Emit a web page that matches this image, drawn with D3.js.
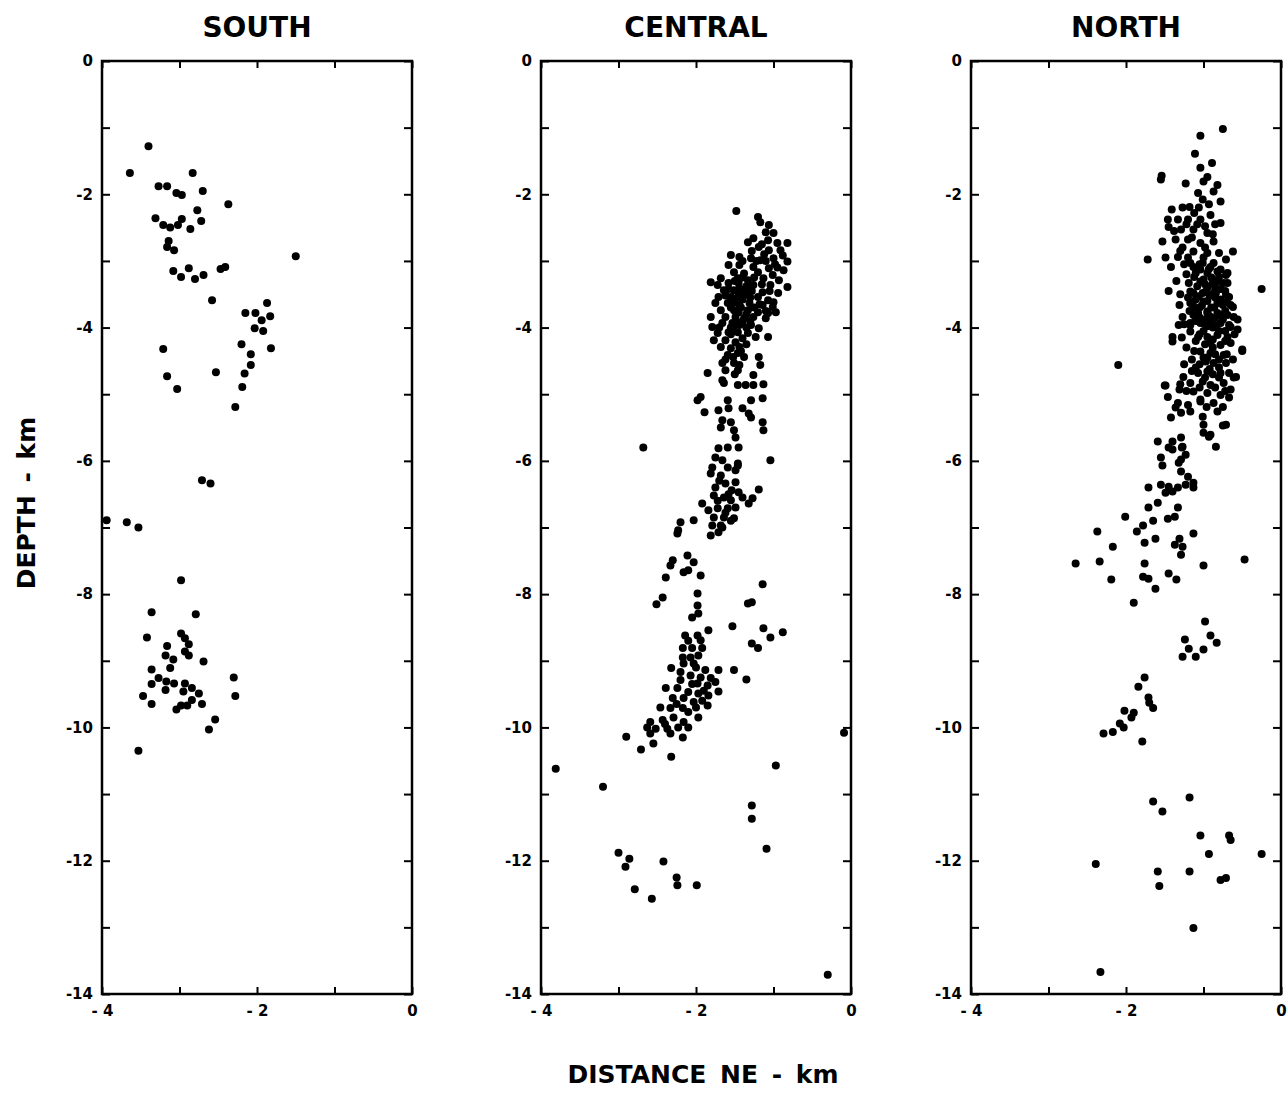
<!DOCTYPE html>
<html>
<head>
<meta charset="utf-8">
<script src="https://cdn.jsdelivr.net/npm/d3@7"></script>
<style>
  body { margin: 0; background: #fff; }
  text { font-family: "DejaVu Sans", "Liberation Sans", Arial, sans-serif; font-weight: bold; fill: #000; }
</style>
</head>
<body>
<svg id="chart"></svg>
<script>
// hypocentre cross-sections, [distance NE (km), depth (km)]
const panelNames = ["SOUTH", "CENTRAL", "NORTH"];
const xTicks = [-4, -3, -2, -1, 0];
const xTickLabels = { "-4": "- 4", "-2": "- 2", "0": "0" };
const yTicks = d3.range(-14, 1, 1);

const southEvents = [
  [-3.40,-1.28],[-3.64,-1.68],[-3.27,-1.88],[-3.16,-1.88],[-3.04,-1.98],[-2.97,-2.01],[-2.83,-1.68],[-2.70,-1.95],
  [-2.37,-2.15],[-3.31,-2.36],[-3.21,-2.46],[-3.12,-2.50],[-3.02,-2.46],[-2.97,-2.37],[-2.86,-2.52],[-2.77,-2.24],
  [-2.72,-2.40],[-3.14,-2.70],[-3.16,-2.79],[-3.07,-2.84],[-3.08,-3.15],[-2.98,-3.24],[-2.88,-3.11],[-2.80,-3.27],
  [-2.69,-3.21],[-2.47,-3.12],[-2.41,-3.09],[-1.50,-2.93],[-2.58,-3.59],[-2.15,-3.78],[-2.02,-3.78],[-1.87,-3.63],
  [-1.83,-3.83],[-1.94,-3.89],[-2.03,-4.01],[-1.92,-4.05],[-2.20,-4.25],[-2.08,-4.40],[-1.82,-4.31],[-3.21,-4.32],
  [-2.08,-4.56],[-2.16,-4.69],[-2.53,-4.67],[-3.16,-4.73],[-3.03,-4.92],[-2.19,-4.89],[-2.28,-5.19],[-2.71,-6.29],
  [-2.60,-6.34],[-3.94,-6.89],[-3.68,-6.92],[-3.53,-7.00],[-2.98,-7.79],[-3.36,-8.27],[-2.79,-8.30],[-3.42,-8.65],
  [-2.98,-8.59],[-2.93,-8.66],[-2.88,-8.75],[-3.16,-8.78],[-3.18,-8.92],[-2.93,-8.86],[-2.88,-8.92],[-3.08,-8.98],
  [-2.69,-9.01],[-3.36,-9.13],[-3.12,-9.11],[-3.27,-9.26],[-3.17,-9.31],[-3.36,-9.35],[-3.07,-9.34],[-2.93,-9.34],
  [-3.18,-9.44],[-2.95,-9.46],[-2.84,-9.41],[-2.75,-9.49],[-2.30,-9.25],[-2.28,-9.53],[-3.47,-9.53],[-3.36,-9.65],
  [-2.84,-9.59],[-2.90,-9.67],[-2.98,-9.67],[-3.04,-9.73],[-2.71,-9.65],[-2.54,-9.88],[-2.62,-10.03],[-3.53,-10.35]
];

const centralEvents = [
  [-1.48,-2.25],[-1.20,-2.34],[-1.17,-2.42],[-1.06,-2.46],[-1.10,-2.57],[-1.00,-2.58],[-1.26,-2.66],[-1.33,-2.72],
  [-1.07,-2.69],[-0.95,-2.73],[-0.82,-2.73],[-1.19,-2.79],[-1.06,-2.84],[-0.91,-2.84],[-1.55,-2.91],[-1.44,-2.94],
  [-1.29,-2.96],[-1.17,-2.99],[-1.00,-2.96],[-0.82,-3.01],[-1.58,-3.06],[-1.44,-3.06],[-1.26,-3.09],[-1.06,-3.11],
  [-0.87,-3.14],[-1.51,-3.17],[-1.38,-3.19],[-1.20,-3.17],[-1.01,-3.21],[-1.68,-3.26],[-1.46,-3.26],[-1.33,-3.29],
  [-1.13,-3.26],[-0.93,-3.29],[-1.81,-3.32],[-1.72,-3.36],[-1.58,-3.33],[-1.45,-3.33],[-1.26,-3.36],[-1.04,-3.36],
  [-0.82,-3.39],[-1.64,-3.44],[-1.51,-3.44],[-1.44,-3.41],[-1.32,-3.44],[-1.14,-3.47],[-0.94,-3.48],[-1.71,-3.54],
  [-1.55,-3.54],[-1.46,-3.54],[-1.38,-3.51],[-1.20,-3.54],[-1.07,-3.59],[-1.00,-3.62],[-1.75,-3.63],[-1.59,-3.63],
  [-1.50,-3.62],[-1.44,-3.66],[-1.31,-3.63],[-1.14,-3.66],[-1.01,-3.69],[-1.68,-3.74],[-1.51,-3.74],[-1.45,-3.77],
  [-1.33,-3.74],[-1.20,-3.77],[-1.07,-3.78],[-0.97,-3.77],[-1.81,-3.84],[-1.62,-3.84],[-1.49,-3.84],[-1.38,-3.86],
  [-1.26,-3.84],[-1.10,-3.86],[-1.79,-3.99],[-1.66,-3.93],[-1.53,-3.93],[-1.44,-3.96],[-1.29,-3.96],[-1.19,-4.01],
  [-1.07,-4.14],[-1.72,-4.08],[-1.58,-4.07],[-1.46,-4.07],[-1.33,-4.08],[-1.23,-4.14],[-1.77,-4.19],[-1.62,-4.19],
  [-1.49,-4.22],[-1.40,-4.16],[-1.68,-4.29],[-1.55,-4.31],[-1.44,-4.29],[-1.59,-4.41],[-1.46,-4.38],[-1.38,-4.44],
  [-1.19,-4.44],[-1.66,-4.53],[-1.51,-4.53],[-1.44,-4.56],[-1.17,-4.56],[-1.62,-4.64],[-1.46,-4.64],[-1.85,-4.68],
  [-1.26,-4.71],[-1.66,-4.79],[-1.64,-4.83],[-1.46,-4.86],[-1.36,-4.86],[-1.26,-4.86],[-1.13,-4.85],[-1.94,-5.04],
  [-1.98,-5.09],[-1.59,-5.09],[-1.29,-5.09],[-1.14,-5.06],[-1.89,-5.27],[-1.71,-5.24],[-1.58,-5.21],[-1.40,-5.21],
  [-1.32,-5.29],[-1.66,-5.39],[-1.55,-5.42],[-1.29,-5.35],[-1.14,-5.42],[-1.68,-5.50],[-1.51,-5.54],[-1.13,-5.54],
  [-1.49,-5.65],[-2.68,-5.80],[-1.71,-5.81],[-1.59,-5.80],[-1.45,-5.80],[-1.04,-5.99],[-1.75,-5.95],[-1.66,-5.99],
  [-1.46,-6.04],[-1.79,-6.10],[-1.59,-6.10],[-1.49,-6.14],
  [-1.40,-3.00],[-1.25,-3.25],[-1.35,-3.38],[-1.55,-3.70],[-1.40,-3.92],[-1.55,-4.10],[-1.35,-4.00],[-1.50,-3.30],
  [-1.62,-3.52],[-1.40,-3.58],[-1.30,-3.55],[-1.52,-4.44],[-1.30,-3.90],[-1.12,-2.90],[-0.98,-3.05],[-0.88,-2.92],
  [-1.15,-3.35],[-1.25,-3.70],[-1.55,-4.00],[-1.62,-4.48],
  [-1.38,-3.45],[-1.45,-3.47],[-1.42,-3.70],[-1.48,-3.90],[-1.35,-3.80],[-1.58,-3.42],[-1.28,-3.45],[-1.52,-4.00],
  [-1.42,-4.35],[-1.50,-4.70],[-1.40,-3.25],[-1.22,-3.00],[-1.10,-3.00],[-0.95,-3.10],[-1.15,-2.75],[-1.28,-2.85],
  [-1.05,-3.45],[-1.18,-3.65],[-1.10,-3.75],[-1.35,-4.25],[-1.70,-4.00],
  [-1.81,-6.19],[-1.46,-6.07],[-1.68,-6.22],[-1.62,-6.34],[-1.49,-6.32],[-1.54,-6.44],[-1.45,-6.47],[-1.77,-6.52],
  [-1.64,-6.55],[-1.55,-6.59],[-1.19,-6.43],[-1.27,-6.56],[-1.32,-6.64],[-1.92,-6.64],[-1.84,-6.74],[-1.72,-6.71],
  [-1.59,-6.71],[-1.49,-6.70],[-1.77,-6.85],[-1.64,-6.85],[-1.51,-6.86],[-1.79,-6.97],[-1.68,-6.97],[-1.81,-7.12],
  [-1.71,-7.07],[-2.20,-6.92],[-2.23,-7.04],[-2.24,-7.09],[-2.03,-6.89],[-2.30,-7.49],[-2.33,-7.57],[-2.11,-7.42],
  [-1.70,-6.30],[-1.58,-6.50],[-1.72,-6.60],[-1.62,-6.78],[-1.55,-6.90],[-1.75,-6.40],[-1.40,-6.55],[-1.66,-7.00],
  [-2.03,-7.52],[-2.16,-7.67],[-2.10,-7.64],[-1.94,-7.72],[-2.39,-7.75],[-1.98,-7.99],[-2.43,-8.05],[-2.51,-8.15],
  [-1.14,-7.85],[-1.33,-8.14],[-1.28,-8.12],[-1.98,-8.17],[-1.97,-8.29],[-2.05,-8.35],[-1.53,-8.48],[-1.13,-8.51],
  [-1.04,-8.65],[-0.88,-8.57],[-1.28,-8.74],[-1.20,-8.81],[-2.14,-8.62],[-1.98,-8.62],[-1.84,-8.54],[-1.94,-8.69],
  [-2.17,-8.81],[-2.05,-8.81],[-1.92,-8.81],[-2.17,-8.95],[-2.07,-8.95],[-1.97,-8.92],[-2.16,-9.04],[-2.03,-9.04],
  [-1.88,-9.14],[-1.71,-9.14],[-1.51,-9.14],[-1.35,-9.28],[-2.32,-9.11],[-2.20,-9.17],[-2.07,-9.22],[-1.94,-9.25],
  [-1.81,-9.26],[-2.20,-9.29],[-1.98,-9.34],[-1.85,-9.37],[-1.75,-9.32],[-2.39,-9.41],[-2.24,-9.41],[-2.10,-9.47],
  [-1.97,-9.49],[-1.84,-9.52],[-1.71,-9.46],[-2.30,-9.56],[-2.16,-9.56],[-2.03,-9.62],[-1.85,-9.67],[-2.46,-9.70],
  [-2.33,-9.71],[-2.17,-9.71],[-2.10,-9.77],[-1.97,-9.85],[-2.59,-9.92],[-2.43,-9.89],[-2.29,-9.85],[-2.16,-9.92],
  [-2.63,-10.00],[-2.52,-10.02],[-2.37,-10.02],[-2.23,-10.00],[-2.10,-10.00],[-2.59,-10.09],[-2.33,-10.09],[-2.17,-10.15],
  [-2.90,-10.14],[-2.55,-10.24],[-2.71,-10.33],[-2.32,-10.44],
  [-2.10,-8.70],[-2.00,-9.10],[-1.90,-9.45],[-2.05,-9.35],[-2.25,-9.65],[-2.40,-9.95],[-2.00,-9.70],[-1.92,-9.60],
  [-0.09,-10.08],[-0.97,-10.57],[-3.81,-10.62],[-3.20,-10.89],[-1.28,-11.17],[-1.28,-11.37],[-1.09,-11.82],[-3.00,-11.88],
  [-2.86,-11.97],[-2.91,-12.09],[-2.42,-12.01],[-2.25,-12.25],[-2.24,-12.37],[-1.99,-12.37],[-2.79,-12.43],[-2.57,-12.57],
  [-0.30,-13.71]
];

const northEvents = [
  [-0.75,-1.02],[-1.04,-1.12],[-1.11,-1.39],[-1.04,-1.60],[-0.89,-1.53],[-1.54,-1.72],[-1.55,-1.78],[-1.23,-1.84],
  [-0.95,-1.74],[-1.00,-1.81],[-0.82,-1.86],[-1.07,-1.98],[-0.87,-1.96],[-0.78,-2.11],[-1.01,-2.08],[-1.27,-2.20],
  [-1.18,-2.19],[-1.41,-2.23],[-1.06,-2.20],[-0.91,-2.31],[-1.46,-2.38],[-1.33,-2.38],[-1.20,-2.38],[-1.04,-2.38],
  [-0.78,-2.43],[-1.45,-2.49],[-1.29,-2.53],[-1.13,-2.53],[-0.95,-2.58],[-1.53,-2.71],[-1.36,-2.68],[-1.20,-2.68],
  [-1.04,-2.73],[-0.87,-2.71],[-1.27,-2.80],[-1.13,-2.86],[-0.95,-2.88],[-0.80,-2.88],[-0.62,-2.86],[-1.72,-2.98],
  [-1.49,-2.95],[-1.33,-2.94],[-1.42,-3.09],[-1.17,-3.03],[-1.01,-3.03],[-0.87,-3.03],[-0.71,-2.98],[-1.10,-3.18],
  [-0.95,-3.18],[-0.82,-3.16],[-0.71,-3.21],[-1.19,-3.33],[-1.04,-3.31],[-0.88,-3.33],[-0.74,-3.33],[-1.45,-3.45],
  [-0.25,-3.42],[-1.17,-3.46],[-1.01,-3.48],[-0.87,-3.48],[-0.67,-3.54],[-1.31,-3.66],[-1.14,-3.63],[-1.00,-3.61],
  [-0.82,-3.63],[-0.65,-3.66],[-1.27,-3.84],[-1.13,-3.81],[-0.95,-3.78],[-0.78,-3.81],[-0.61,-3.84],[-1.32,-3.96],
  [-1.17,-3.96],[-1.01,-3.93],[-0.84,-3.96],[-0.67,-3.96],
  [-1.13,-3.09],[-1.04,-3.13],[-0.91,-3.09],[-0.78,-3.13],[-0.69,-3.18],[-1.00,-3.28],[-0.82,-3.31],[-0.69,-3.33],
  [-1.13,-3.48],[-0.97,-3.46],[-0.84,-3.48],[-0.71,-3.51],[-1.17,-3.63],[-0.75,-3.66],[-0.62,-3.69],[-1.07,-3.78],
  [-0.95,-3.76],[-0.82,-3.78],[-0.69,-3.81],[-0.56,-3.88],[-1.17,-3.93],[-1.04,-3.93],[-0.91,-3.91],[-0.78,-3.93],
  [-0.65,-3.99],[-0.56,-4.03],[-1.40,-4.14],[-1.40,-4.21],[-1.17,-4.06],[-1.07,-4.14],[-0.95,-4.14],[-0.82,-4.11],
  [-0.69,-4.14],[-0.91,-4.23],[-0.78,-4.26],[-0.65,-4.23],[-0.50,-4.33],[-1.04,-4.36],[-0.91,-4.38],[-0.74,-4.41],
  [-1.15,-4.48],[-0.97,-4.51],[-0.87,-4.53],[-0.71,-4.53],[-0.58,-4.74],[-1.26,-4.74],[-1.07,-4.68],[-0.95,-4.66],
  [-0.78,-4.68],[-0.67,-4.68],[-1.49,-4.87],[-1.17,-4.83],[-1.01,-4.81],[-0.91,-4.86],[-0.74,-4.83],[-1.46,-5.04],
  [-1.31,-4.93],[-1.13,-4.96],[-0.95,-4.98],[-0.78,-5.01],[-0.67,-5.05],[-1.33,-5.13],[-1.20,-5.16],[-1.04,-5.11],
  [-0.87,-5.13],[-1.42,-5.35],[-1.29,-5.28],[-1.17,-5.26],[-1.01,-5.34],[-0.82,-5.26],[-0.71,-5.46],[-1.00,-5.46],
  [-1.00,-5.58],[-0.91,-5.61],[-0.84,-5.79],[-1.59,-5.71],[-1.40,-5.71],[-1.40,-5.83],[-1.29,-5.65],[-1.27,-5.79],
  [-1.55,-5.95],[-1.29,-5.98],[-1.23,-5.91],
  [-0.95,-3.40],[-0.85,-3.55],[-0.90,-3.70],[-1.05,-3.85],[-0.88,-4.00],[-0.98,-4.25],[-0.85,-4.40],[-1.10,-4.20],
  [-0.80,-4.60],[-1.00,-4.45],
  [-1.00,-2.95],[-0.90,-3.25],[-1.08,-3.38],[-0.78,-3.42],[-1.10,-3.58],[-0.95,-3.60],[-0.72,-3.75],[-1.18,-3.75],
  [-0.98,-3.88],[-0.80,-4.05],[-1.00,-4.05],[-1.22,-4.30],[-0.88,-4.30],[-0.70,-4.40],[-1.10,-4.60],[-0.88,-4.70],
  [-0.72,-4.95],[-1.05,-4.90],[-1.22,-4.95],[-1.30,-2.85],[-1.15,-2.65],[-1.38,-2.55],[-0.98,-2.48],[-1.12,-2.28],
  [-0.93,-2.15],[-1.22,-3.20],[-1.30,-3.50],[-1.05,-3.70],[-0.85,-3.85],[-0.60,-4.10],
  [-1.05,-3.05],[-0.93,-3.12],[-0.80,-3.24],[-1.12,-3.24],[-0.98,-3.35],[-0.85,-3.40],[-0.72,-3.45],[-1.06,-3.53],
  [-0.92,-3.52],[-0.78,-3.58],[-1.20,-3.55],[-1.02,-3.67],[-0.86,-3.70],[-0.70,-3.62],[-1.12,-3.70],[-0.92,-3.83],
  [-0.75,-3.88],[-1.10,-3.90],[-0.95,-3.98],[-0.72,-4.05],[-1.05,-4.10],[-0.88,-4.18],[-0.72,-4.20],[-1.12,-4.35],
  [-0.95,-4.45],[-0.80,-4.48],[-0.62,-4.48],[-1.05,-4.55],[-0.92,-4.62],[-0.80,-4.75],[-0.98,-4.75],[-1.15,-4.65],
  [-0.85,-4.90],[-1.25,-4.55],[-1.30,-4.85],[-1.25,-3.05],[-1.35,-3.30],[-1.25,-3.95],[-1.28,-4.15],[-1.20,-2.95],
  [-0.98,-2.80],[-0.88,-2.60],[-1.22,-2.45],[-1.08,-2.45],[-0.85,-2.45],
  [-2.10,-4.56],[-0.50,-4.35],[-1.50,-4.87],[-1.04,-5.08],[-0.96,-5.19],[-0.75,-5.19],[-0.65,-4.93],[-0.61,-4.75],
  [-1.36,-5.20],[-0.75,-5.47],[-0.93,-5.64],[-1.45,-5.80],[-1.28,-5.80],[-1.53,-6.07],[-1.32,-6.03],[-1.29,-6.16],
  [-1.20,-6.24],[-1.23,-6.36],[-1.13,-6.33],[-1.13,-6.40],[-1.71,-6.40],[-1.55,-6.36],[-1.45,-6.39],[-1.33,-6.40],
  [-1.49,-6.48],[-1.40,-6.46],[-1.59,-6.63],[-1.71,-6.70],[-1.33,-6.70],[-2.01,-6.84],[-1.46,-6.87],[-1.37,-6.84],
  [-1.65,-6.90],[-1.78,-6.97],[-2.37,-7.06],[-1.86,-7.06],[-1.13,-7.09],[-1.76,-7.23],[-1.62,-7.17],[-1.31,-7.17],
  [-1.37,-7.26],[-1.27,-7.29],[-1.29,-7.41],[-2.17,-7.29],[-2.65,-7.54],[-2.34,-7.51],[-1.76,-7.54],[-1.00,-7.57],
  [-0.47,-7.48],[-2.19,-7.78],[-1.78,-7.74],[-1.71,-7.77],[-1.45,-7.69],[-1.35,-7.78],[-1.62,-7.92],[-1.90,-8.13],
  [-0.98,-8.41],
  [-1.24,-8.68],[-0.91,-8.62],[-0.83,-8.73],[-1.19,-8.82],[-1.00,-8.83],[-1.27,-8.94],[-1.10,-8.94],[-1.76,-9.25],
  [-1.84,-9.39],[-1.71,-9.55],[-1.70,-9.63],[-1.65,-9.71],[-2.02,-9.75],[-1.90,-9.78],[-1.93,-9.85],[-2.08,-9.94],
  [-2.03,-10.00],[-2.17,-10.07],[-2.29,-10.09],[-1.79,-10.21],[-1.18,-11.05],[-1.65,-11.11],[-1.53,-11.26],[-1.04,-11.62],
  [-0.67,-11.62],[-0.65,-11.69],[-0.25,-11.90],[-0.93,-11.90],[-2.39,-12.05],[-1.59,-12.16],[-1.18,-12.16],[-0.78,-12.29],
  [-0.71,-12.26],[-1.57,-12.38],[-1.13,-13.01],[-2.33,-13.67]
];

const panelData = [southEvents, centralEvents, northEvents];

const config = {
  width: 1288,
  height: 1100,
  top: 61,
  bottom: 994,
  lefts: [102, 541, 971],
  panelWidth: 310,
  dotRadius: 4
};

const svg = d3.select("#chart")
  .attr("width", config.width)
  .attr("height", config.height);

const y = d3.scaleLinear().domain([-14, 0]).range([config.bottom, config.top]);

panelNames.forEach((name, i) => {
  const left = config.lefts[i];
  const x = d3.scaleLinear().domain([-4, 0]).range([left, left + config.panelWidth]);
  const g = svg.append("g").attr("class", "panel");

  // left axis, labels only on even depths
  g.append("g")
    .attr("transform", `translate(${left},0)`)
    .call(d3.axisLeft(y).tickValues(yTicks).tickSize(-8).tickPadding(9)
      .tickFormat(d => d % 2 === 0 ? (d === 0 ? "0" : "-" + Math.abs(d)) : ""));
  g.append("g")
    .attr("transform", `translate(${left + config.panelWidth},0)`)
    .call(d3.axisRight(y).tickValues(yTicks).tickSize(-8).tickFormat(""));
  g.append("g")
    .attr("transform", `translate(0,${config.bottom})`)
    .call(d3.axisBottom(x).tickValues(xTicks).tickSize(-7).tickPadding(11)
      .tickFormat(d => xTickLabels[d] || ""));
  g.append("g")
    .attr("transform", `translate(0,${config.top})`)
    .call(d3.axisTop(x).tickValues(xTicks).tickSize(-7).tickFormat(""));

  g.selectAll(".domain").remove();
  g.selectAll(".tick line").attr("stroke", "#000").attr("stroke-width", 2);
  g.selectAll(".tick text").style("font-size", "15px").attr("fill", "#000");

  g.append("rect")
    .attr("x", left)
    .attr("y", config.top)
    .attr("width", config.panelWidth)
    .attr("height", config.bottom - config.top)
    .attr("fill", "none")
    .attr("stroke", "#000")
    .attr("stroke-width", 2.5);

  g.selectAll("circle")
    .data(panelData[i])
    .join("circle")
    .attr("cx", d => x(d[0]))
    .attr("cy", d => y(d[1]))
    .attr("r", config.dotRadius)
    .attr("fill", "#000");

  svg.append("text")
    .attr("x", left + config.panelWidth / 2)
    .attr("y", 37)
    .attr("text-anchor", "middle")
    .style("font-size", "28px")
    .text(name);
});

svg.append("text")
  .attr("transform", "translate(35,503) rotate(-90)")
  .attr("text-anchor", "middle")
  .style("font-size", "25px")
  .style("word-spacing", "4px")
  .text("DEPTH - km");

svg.append("text")
  .attr("x", 703)
  .attr("y", 1083)
  .attr("text-anchor", "middle")
  .style("font-size", "25px")
  .style("word-spacing", "5px")
  .text("DISTANCE NE - km");
</script>
</body>
</html>
